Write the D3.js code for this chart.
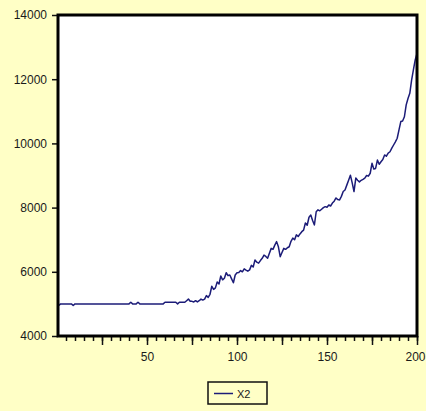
<!DOCTYPE html>
<html>
<head>
<meta charset="utf-8">
<script src="https://cdn.jsdelivr.net/npm/d3@7"></script>
<style>
html, body { margin: 0; padding: 0; background: #FFFFC6; }
svg { display: block; }
text { font-family: "Liberation Sans", Arial, sans-serif; fill: #1a1a1a; }
</style>
</head>
<body>
<svg id="chart" width="426" height="411"></svg>
<script>
// ---- data ----
const seriesName = "X2";
const x2 = [
  4950, 5000, 5000, 5000, 5000, 5000, 5000, 5000, 4950, 5000,
  5000, 5000, 5000, 5000, 5000, 5000, 5000, 5000, 5000, 5000,
  5000, 5000, 5000, 5000, 5000, 5000, 5000, 5000, 5000, 5000,
  5000, 5000, 5000, 5000, 5000, 5000, 5000, 5000, 5000, 5000,
  5050, 5000, 5000, 5000, 5050, 5000, 5000, 5000, 5000, 5000,
  5000, 5000, 5000, 5000, 5000, 5000, 5000, 5000, 5000, 5050,
  5050, 5050, 5050, 5050, 5050, 5050, 5000, 5050, 5050, 5050,
  5050, 5100, 5150, 5080, 5080, 5060, 5100, 5060, 5100, 5150,
  5120, 5150, 5260, 5200, 5300, 5550, 5450, 5500, 5680, 5620,
  5870, 5750, 5800, 5970, 5880, 5900, 5780, 5660, 5900, 5970,
  5980, 6040, 6000, 6090, 6050, 6020, 6060, 6200, 6150, 6370,
  6300, 6270, 6350, 6420, 6520, 6480, 6420, 6580, 6730, 6700,
  6830, 6940, 6780, 6470, 6600, 6730, 6700, 6750, 6780, 6950,
  7050, 7000, 7150, 7100, 7180, 7250, 7300, 7520, 7450, 7700,
  7770, 7600, 7460, 7870, 7930, 7900, 7950, 8000, 8030, 8010,
  8080, 8050, 8140, 8200, 8300, 8250, 8240, 8350, 8500, 8550,
  8700, 8850, 9010, 8770, 8500, 8920, 8850, 8800, 8850, 8880,
  8920, 9000, 8980, 9070, 9380, 9200, 9220, 9480, 9350, 9430,
  9500, 9640, 9600, 9700, 9740, 9850, 9950, 10050, 10160, 10420,
  10680, 10700, 10830, 11200, 11400, 11560, 11970, 12290, 12600, 12800
];
const obs = x2.map((_, i) => i + 1);
const yTicks = [4000, 6000, 8000, 10000, 12000, 14000];
const xLabelTicks = [50, 100, 150, 200];
const xMajorTicks = [25, 50, 75, 100, 125, 150, 175, 200];
const xMinorTicks = d3.range(5, 201, 5);

// ---- layout ----
const svg = d3.select("#chart");
const W = 426;
const L = 58, R = 417, T = 15, B = 336;

const x = d3.scaleLinear().domain([0, 200]).range([L - 1, R]);
const y = d3.scaleLinear().domain([4000, 14000]).range([B, T]);

// plot background
svg.append("rect").attr("x", L).attr("y", T).attr("width", R - L).attr("height", B - T)
  .attr("fill", "#ffffff");

// minor x ticks
svg.append("g").attr("transform", `translate(0,${B})`)
  .call(d3.axisBottom(x).tickValues(xMinorTicks).tickSize(5).tickFormat(""))
  .call(g => g.select(".domain").remove())
  .call(g => g.selectAll("line").attr("stroke", "#111").attr("stroke-width", 1.5));

// major x ticks
svg.append("g").attr("transform", `translate(0,${B})`)
  .call(d3.axisBottom(x).tickValues(xMajorTicks).tickSize(9).tickFormat(""))
  .call(g => g.select(".domain").remove())
  .call(g => g.selectAll("line").attr("stroke", "#111").attr("stroke-width", 1.5));

// x labels
svg.append("g").attr("transform", `translate(0,${B})`)
  .call(d3.axisBottom(x).tickValues(xLabelTicks).tickSize(0).tickPadding(16).tickFormat(d3.format("d")))
  .call(g => g.select(".domain").remove())
  .call(g => g.selectAll("text").attr("font-size", 12).attr("fill", "#1a1a1a")
    .style("font-family", "'Liberation Sans', Arial, sans-serif"))
  .call(g => g.selectAll(".tick").filter(d => d === 200).select("text")
    .attr("text-anchor", "end").attr("x", (W - 1) - x(200)));

// y axis
svg.append("g").attr("transform", `translate(${L},0)`)
  .call(d3.axisLeft(y).tickValues(yTicks).tickSize(6).tickPadding(5).tickFormat(d3.format("d")))
  .call(g => g.select(".domain").remove())
  .call(g => g.selectAll("line").attr("stroke", "#111").attr("stroke-width", 1.5))
  .call(g => g.selectAll("text").attr("font-size", 12).attr("fill", "#1a1a1a")
    .style("font-family", "'Liberation Sans', Arial, sans-serif"));

// data line
const line = d3.line().x((d, i) => x(obs[i])).y(d => y(d));
svg.append("path").datum(x2).attr("d", line)
  .attr("fill", "none").attr("stroke", "#1c1c78").attr("stroke-width", 1.5)
  .attr("stroke-linejoin", "round");

// frame
svg.append("rect").attr("x", L).attr("y", T).attr("width", R - L).attr("height", B - T)
  .attr("fill", "none").attr("stroke", "#000").attr("stroke-width", 3);

// legend
const lg = svg.append("g").attr("transform", "translate(208,382)");
lg.append("rect").attr("width", 59).attr("height", 22).attr("fill", "none")
  .attr("stroke", "#111").attr("stroke-width", 1.5);
lg.append("line").attr("x1", 6).attr("x2", 25).attr("y1", 11.5).attr("y2", 11.5)
  .attr("stroke", "#1c1c78").attr("stroke-width", 1.5);
lg.append("text").attr("x", 29).attr("y", 15.5).attr("font-size", 11).text(seriesName);
</script>
</body>
</html>
